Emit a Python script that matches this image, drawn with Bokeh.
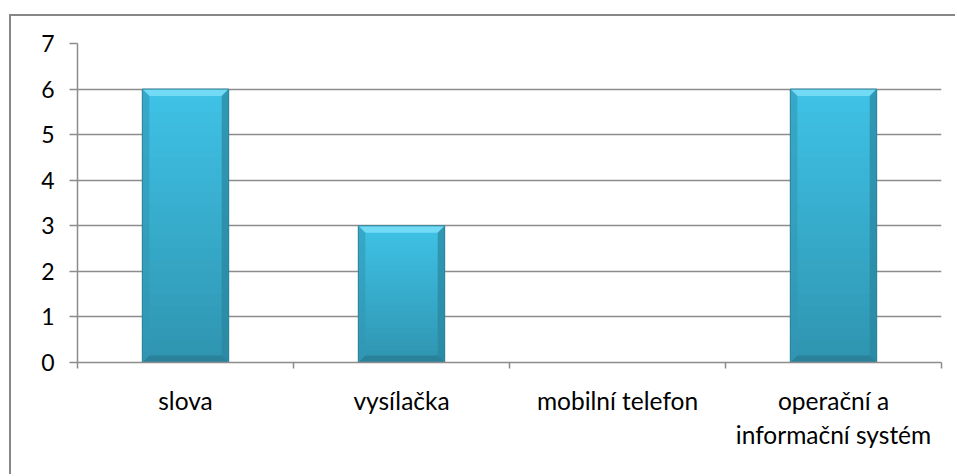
from bokeh.plotting import figure
from bokeh.models import Range1d, FixedTicker, LinearAxis
from bokeh.embed import file_html
from bokeh.resources import INLINE

categories = ["slova", "vysílačka", "mobilní telefon", "operační a\ninformační systém"]
values = [6, 3, 0, 6]
y_ticks = [0, 1, 2, 3, 4, 5, 6, 7]

FONT = "Lato"
GRID = "#8c8c8c"
n = len(categories)
xc = [i + 0.5 for i in range(n)]
bw = 0.40

p = figure(width=946, height=460, x_range=Range1d(0, n), y_range=Range1d(0, 7),
           output_backend="svg", toolbar_location=None, x_axis_type=None,
           min_border_left=66, min_border_right=16, min_border_top=27,
           min_border_bottom=114)
p.outline_line_color = None
p.styles = {"border-left": "2px solid #878787", "border-top": "2px solid #878787"}
p.margin = (14, 0, 0, 9)

# grid
p.xgrid.visible = False
p.ygrid.ticker = FixedTicker(ticks=y_ticks)
p.ygrid.grid_line_color = GRID
p.ygrid.grid_line_width = 1.5

# y axis
ya = p.yaxis[0]
ya.ticker = FixedTicker(ticks=y_ticks)
ya.axis_line_color = GRID
ya.axis_line_width = 1.5
ya.major_tick_line_color = GRID
ya.major_tick_line_width = 1.5
ya.major_tick_out = 8
ya.major_tick_in = 0
ya.minor_tick_line_color = None
ya.major_label_text_font = FONT
ya.major_label_text_font_size = "23px"
ya.major_label_text_color = "#000000"
ya.major_label_standoff = 15

# x axis: ticks at category boundaries, labels at centers
xa = LinearAxis(ticker=FixedTicker(ticks=xc, minor_ticks=list(range(n + 1))))
xa.major_label_overrides = {c: lab for c, lab in zip(xc, categories)}
xa.axis_line_color = GRID
xa.axis_line_width = 1.5
xa.major_tick_line_color = None
xa.minor_tick_line_color = GRID
xa.minor_tick_line_width = 1.5
xa.minor_tick_out = 6
xa.minor_tick_in = 0
xa.major_label_text_font = FONT
xa.major_label_text_font_size = "24.5px"
xa.major_label_text_color = "#000000"
xa.major_label_standoff = 17
p.add_layout(xa, "below")

# bars: vertical gradient body
def mix(c1, c2, t):
    a = [int(c1[i:i + 2], 16) for i in (1, 3, 5)]
    b = [int(c2[i:i + 2], 16) for i in (1, 3, 5)]
    return "#%02x%02x%02x" % tuple(round(a[k] + (b[k] - a[k]) * t) for k in range(3))

BOT = "#2f94b0"
TOP = "#3fc3e7"
N = 24
xs, bots, tops, cols = [], [], [], []
for x, v in zip(xc, values):
    if v <= 0:
        continue
    for k in range(N):
        xs.append(x)
        bots.append(v * k / N)
        tops.append(min(v, v * (k + 1.5) / N))
        cols.append(mix(BOT, TOP, (k + 0.5) / N))
p.vbar(x=xs, bottom=bots, top=tops, width=bw, fill_color=cols, line_color=None)

# bevels
dy = 7 * 7 / 319.0
dx = 7 * n / 864.0
top_x, top_y, bot_x, bot_y, l_x, l_y, r_x, r_y = [], [], [], [], [], [], [], []
for x, v in zip(xc, values):
    if v <= 0:
        continue
    L, R = x - bw / 2, x + bw / 2
    top_x.append([L, R, R - dx, L + dx]); top_y.append([v, v, v - dy, v - dy])
    bot_x.append([L, R, R - dx, L + dx]); bot_y.append([0, 0, dy, dy])
    l_x.append([L, L + dx, L + dx, L]); l_y.append([0, dy, v - dy, v])
    r_x.append([R, R - dx, R - dx, R]); r_y.append([0, dy, v - dy, v])
p.patches(top_x, top_y, fill_color="#72daf5", line_color=None)
p.patches(bot_x, bot_y, fill_color="#2a819a", line_color=None)
p.patches(l_x, l_y, fill_color="#3297b4", fill_alpha=0.6, line_color=None)
p.patches(r_x, r_y, fill_color="#2a86a0", fill_alpha=0.7, line_color=None)

bx = [x for x, v in zip(xc, values) if v > 0]
bv = [v for v in values if v > 0]
p.vbar(x=bx, top=bv, width=bw, fill_color=None, line_color="#2a7f96", line_width=1)

open("out.html", "w").write(file_html(p, INLINE))
